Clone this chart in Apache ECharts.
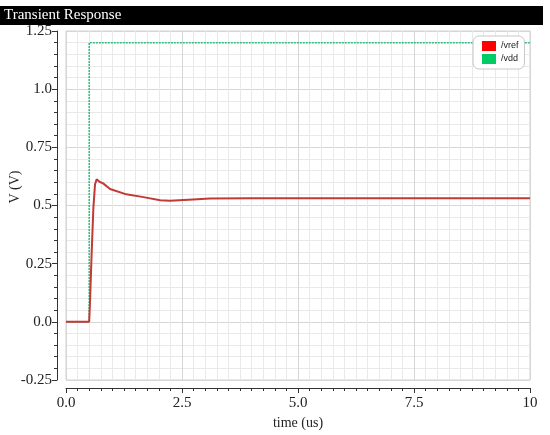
<!DOCTYPE html>
<html>
<head>
<meta charset="utf-8">
<script src="https://cdn.jsdelivr.net/npm/echarts@6/dist/echarts.min.js"></script>
<style>
  html, body { margin: 0; padding: 0; background: #ffffff; }
  #chart { width: 550px; height: 435px; }
</style>
</head>
<body>
<div id="chart"></div>
<script>
// transient sim data (time in us, voltage in V)
var vrefTime = [0, 0.5, 0.52, 0.55, 0.59, 0.625, 0.66, 0.72, 0.8, 0.95, 1.3, 1.67, 2.03, 2.24, 2.74, 3.1, 4.0, 6.0, 8.0, 10];
var vrefVolt = [0, 0, 0.1, 0.28, 0.49, 0.59, 0.613, 0.602, 0.595, 0.571, 0.548, 0.536, 0.523, 0.52, 0.526, 0.53, 0.531, 0.531, 0.531, 0.531];
var vddTime = [0, 0.5, 0.5, 10];
var vddVolt = [0, 0, 1.2, 1.2];

var xTickValues = [0, 2.5, 5, 7.5, 10];
var xTickLabels = ["0.0", "2.5", "5.0", "7.5", "10"];
var yTickValues = [-0.25, 0, 0.25, 0.5, 0.75, 1, 1.25];
var yTickLabels = ["-0.25", "0.0", "0.25", "0.5", "0.75", "1.0", "1.25"];

function pairs(xs, ys) {
  var out = [];
  for (var i = 0; i < xs.length; i++) out.push([xs[i], ys[i]]);
  return out;
}
function lookup(vals, labels, v) {
  for (var i = 0; i < vals.length; i++) {
    if (Math.abs(vals[i] - v) < 1e-9) return labels[i];
  }
  return "";
}

var serif = "'Liberation Serif', 'DejaVu Serif', serif";
var chart = echarts.init(document.getElementById("chart"));
chart.setOption({
  animation: false,
  backgroundColor: "#ffffff",
  graphic: [
    // black title strip
    { type: "rect", left: 0, top: 6, shape: { width: 543, height: 19 }, style: { fill: "#000000" } },
    { type: "text", left: 4, top: 8, style: { text: "Transient Response", fill: "#ffffff", font: "15px " + serif } },
    // y axis name
    { type: "text", x: 8, y: 187, rotation: Math.PI / 2, style: { text: "V (V)", fill: "#222", font: "14px " + serif, textAlign: "center", textVerticalAlign: "top" } }
  ],
  grid: {
    left: 66, right: 20, top: 31, bottom: 51,
    show: true, borderColor: "#d0d0d0", borderWidth: 1
  },
  legend: {
    orient: "vertical",
    left: 473, top: 36,
    padding: [5, 6, 5, 9],
    itemGap: 3,
    itemWidth: 14, itemHeight: 10,
    icon: "rect",
    backgroundColor: "#ffffff",
    borderColor: "#c8c8c8", borderWidth: 1, borderRadius: 6,
    textStyle: { fontSize: 9, color: "#222", fontFamily: "Arial, 'Liberation Sans', sans-serif" },
    data: [
      { name: "/vref", itemStyle: { color: "#ff0000" } },
      { name: "/vdd", itemStyle: { color: "#00cc66" } }
    ]
  },
  xAxis: {
    type: "value",
    min: 0, max: 10, interval: 2.5,
    offset: 8,
    name: "time (us)",
    nameLocation: "middle",
    nameGap: 28,
    nameTextStyle: { fontFamily: serif, fontSize: 14, color: "#222" },
    axisLine: { show: true, onZero: false, lineStyle: { color: "#333", width: 1 } },
    axisTick: { show: true, length: 5, lineStyle: { color: "#333" } },
    minorTick: { show: true, splitNumber: 10, length: 3, lineStyle: { color: "#333" } },
    axisLabel: {
      margin: 8, color: "#222", fontFamily: serif, fontSize: 15,
      formatter: function (v) { return lookup(xTickValues, xTickLabels, v); }
    },
    splitLine: { show: true, lineStyle: { color: "#d6d6d6", width: 1 } },
    minorSplitLine: { show: true, lineStyle: { color: "#e9e9e9", width: 1 } }
  },
  yAxis: {
    type: "value",
    min: -0.25, max: 1.25, interval: 0.25,
    offset: 9,
    axisLine: { show: true, onZero: false, lineStyle: { color: "#333", width: 1 } },
    axisTick: { show: true, length: 5, lineStyle: { color: "#333" } },
    minorTick: { show: true, splitNumber: 5, length: 3, lineStyle: { color: "#333" } },
    axisLabel: {
      margin: 5, color: "#222", fontFamily: serif, fontSize: 15,
      formatter: function (v) { return lookup(yTickValues, yTickLabels, v); }
    },
    splitLine: { show: true, lineStyle: { color: "#d6d6d6", width: 1 } },
    minorSplitLine: { show: true, lineStyle: { color: "#e9e9e9", width: 1 } }
  },
  series: [
    {
      name: "/vdd",
      type: "line",
      data: pairs(vddTime, vddVolt),
      showSymbol: false,
      itemStyle: { color: "#00cc66" },
      lineStyle: { color: "#2cbf7c", width: 1.5, type: [2, 1] },
      z: 2
    },
    {
      name: "/vref",
      type: "line",
      data: pairs(vrefTime, vrefVolt),
      showSymbol: false,
      itemStyle: { color: "#ff0000" },
      lineStyle: { color: "#c03a36", width: 2 },
      z: 3
    }
  ]
});
</script>
</body>
</html>
